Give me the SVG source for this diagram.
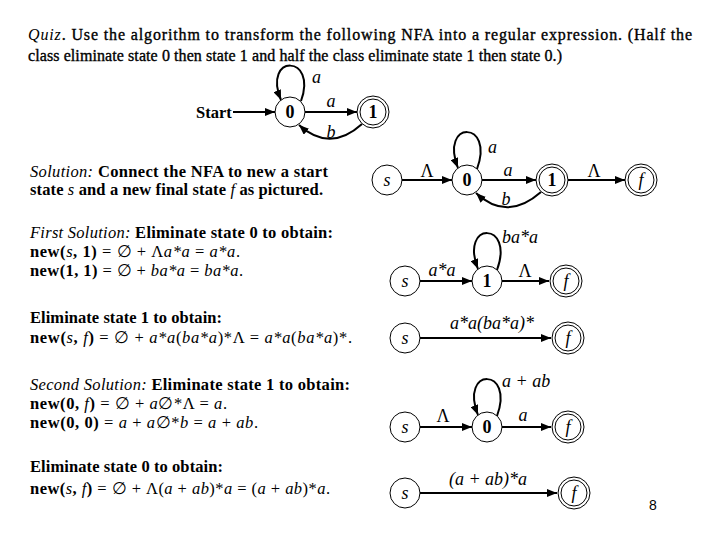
<svg xmlns="http://www.w3.org/2000/svg" width="720" height="540" viewBox="0 0 720 540">
<defs>
<marker id="ah" viewBox="0 0 10 8" refX="10" refY="4" markerWidth="10" markerHeight="8" markerUnits="userSpaceOnUse" orient="auto"><path d="M0,0 L10,4 L0,8 z" fill="#000"/></marker>
<style>
.t{font-family:"Liberation Serif","Times New Roman",serif;font-size:16.5px;font-weight:bold;fill:#000}
.h{font-family:"Liberation Serif","Times New Roman",serif;font-size:16px;fill:#000;stroke:#000;stroke-width:0.35}
.i{font-style:italic;font-weight:normal;stroke:none}
.n{font-weight:normal}
.st{fill:#fff;stroke:#000;stroke-width:1}
.lb{font-family:"Liberation Serif","Times New Roman",serif;font-size:18px;font-style:italic;fill:#000}
.lu{font-family:"Liberation Serif","Times New Roman",serif;font-size:18px;fill:#000;text-anchor:middle}
.nb{font-family:"Liberation Serif","Times New Roman",serif;font-size:18px;font-weight:bold;fill:#000;text-anchor:middle}
.ni{font-family:"Liberation Serif","Times New Roman",serif;font-size:18px;font-style:italic;fill:#000;text-anchor:middle}
.e{fill:none;stroke:#000;stroke-width:2;marker-end:url(#ah)}
.c{text-anchor:middle}
</style>
</defs>
<rect width="720" height="540" fill="#fff"/>

<g id="text">
<text class="h" x="28" y="40" textLength="664" lengthAdjust="spacing"><tspan class="i">Quiz</tspan>. Use the algorithm to transform the following NFA into a regular expression. (Half the</text>
<text class="h" x="28" y="61" textLength="534" lengthAdjust="spacing">class eliminate state 0 then state 1 and half the class eliminate state 1 then state 0.)</text>

<text class="t" x="30" y="177" textLength="298" lengthAdjust="spacing"><tspan class="i">Solution:</tspan> Connect the NFA to new a start</text>
<text class="t" x="30" y="195" textLength="293" lengthAdjust="spacing">state <tspan class="i">s</tspan> and a new final state <tspan class="i">f</tspan> as pictured.</text>

<text class="t" x="30" y="238" textLength="303" lengthAdjust="spacing"><tspan class="i">First Solution:</tspan> Eliminate state 0 to obtain:</text>
<text class="t" x="30" y="257" textLength="210" lengthAdjust="spacing">new(<tspan class="i">s</tspan>, 1) <tspan class="n">= ∅ + Λ</tspan><tspan class="i">a*a</tspan><tspan class="n"> = </tspan><tspan class="i">a*a</tspan><tspan class="n">.</tspan></text>
<text class="t" x="30" y="276" textLength="213" lengthAdjust="spacing">new(1, 1) <tspan class="n">= ∅ + </tspan><tspan class="i">ba*a</tspan><tspan class="n"> = </tspan><tspan class="i">ba*a</tspan><tspan class="n">.</tspan></text>

<text class="t" x="30" y="323" textLength="192" lengthAdjust="spacing">Eliminate state 1 to obtain:</text>
<text class="t" x="30" y="343" textLength="322" lengthAdjust="spacing">new(<tspan class="i">s</tspan>, <tspan class="i">f</tspan>) <tspan class="n">= ∅ + </tspan><tspan class="i">a*a</tspan><tspan class="n">(</tspan><tspan class="i">ba*a</tspan><tspan class="n">)*Λ = </tspan><tspan class="i">a*a</tspan><tspan class="n">(</tspan><tspan class="i">ba*a</tspan><tspan class="n">)*.</tspan></text>

<text class="t" x="30" y="390" textLength="320" lengthAdjust="spacing"><tspan class="i">Second Solution:</tspan> Eliminate state 1 to obtain:</text>
<text class="t" x="30" y="409" textLength="197" lengthAdjust="spacing">new(0, <tspan class="i">f</tspan>) <tspan class="n">= ∅ + </tspan><tspan class="i">a</tspan><tspan class="n">∅*Λ = </tspan><tspan class="i">a</tspan><tspan class="n">.</tspan></text>
<text class="t" x="30" y="428" textLength="228" lengthAdjust="spacing">new(0, 0) <tspan class="n">= </tspan><tspan class="i">a</tspan><tspan class="n"> + </tspan><tspan class="i">a</tspan><tspan class="n">∅*</tspan><tspan class="i">b</tspan><tspan class="n"> = </tspan><tspan class="i">a</tspan><tspan class="n"> + </tspan><tspan class="i">ab</tspan><tspan class="n">.</tspan></text>

<text class="t" x="30" y="472" textLength="193" lengthAdjust="spacing">Eliminate state 0 to obtain:</text>
<text class="t" x="30" y="494" textLength="300" lengthAdjust="spacing">new(<tspan class="i">s</tspan>, <tspan class="i">f</tspan>) <tspan class="n">= ∅ + Λ(</tspan><tspan class="i">a</tspan><tspan class="n"> + </tspan><tspan class="i">ab</tspan><tspan class="n">)*</tspan><tspan class="i">a</tspan><tspan class="n"> = (</tspan><tspan class="i">a</tspan><tspan class="n"> + </tspan><tspan class="i">ab</tspan><tspan class="n">)*</tspan><tspan class="i">a</tspan><tspan class="n">.</tspan></text>

<text x="653" y="510" font-family="Liberation Sans, Arial, sans-serif" font-size="14" text-anchor="middle">8</text>
</g>

<g id="connectors">
<path class="e" d="M233,112 L275,112"/>
<path class="e" d="M301,101 C318,54 262,54 281,100"/>
<path class="e" d="M305,112 L357,112"/>
<path class="e" d="M362,124 Q330,153 299,125"/>

<path class="e" d="M402,180 L452,180"/>
<path class="e" d="M477,169 C495,120 439,120 458,168"/>
<path class="e" d="M482,180 L536,180"/>
<path class="e" d="M541,192 Q507,222 476,193"/>
<path class="e" d="M568,180 L625,180"/>

<path class="e" d="M420,281 L472,281"/>
<path class="e" d="M497,270 C515,221 459,221 478,269"/>
<path class="e" d="M502,281 L549,281"/>

<path class="e" d="M420,338 L551,338"/>

<path class="e" d="M420,427 L472,427"/>
<path class="e" d="M497,416 C515,367 459,367 478,415"/>
<path class="e" d="M502,427 L551,427"/>

<path class="e" d="M420,493 L557,493"/>
</g>

<g id="labels">
<text class="lb" x="312" y="83">a</text>
<text class="lb c" x="331" y="107">a</text>
<text class="lb c" x="331" y="138">b</text>

<text class="lu" x="427" y="177">Λ</text>
<text class="lb" x="488" y="153">a</text>
<text class="lb c" x="508" y="176">a</text>
<text class="lb c" x="506" y="205">b</text>
<text class="lu" x="594" y="177">Λ</text>

<text class="lb" x="502" y="243">ba*a</text>
<text class="lb c" x="442" y="276">a*a</text>
<text class="lu" x="525" y="277">Λ</text>

<text class="lb c" x="492" y="329">a*a(ba*a)*</text>

<text class="lb" x="502" y="387">a + ab</text>
<text class="lu" x="443" y="422">Λ</text>
<text class="lb c" x="523" y="421">a</text>

<text class="lb c" x="488" y="485">(a + ab)*a</text>
</g>

<g id="start-label"><text class="t" x="196" y="118">Start</text></g>

<g id="nA0"><circle class="st" cx="290" cy="112" r="15"/><text class="nb" x="290" y="118">0</text></g>
<g id="nA1"><circle class="st" cx="373" cy="112" r="16"/><circle class="st" cx="373" cy="112" r="13"/><text class="nb" x="373" y="118">1</text></g>

<g id="nBs"><circle class="st" cx="387" cy="180" r="15"/><text class="ni" x="387" y="186">s</text></g>
<g id="nB0"><circle class="st" cx="467" cy="180" r="15"/><text class="nb" x="467" y="186">0</text></g>
<g id="nB1"><circle class="st" cx="552" cy="180" r="16"/><circle class="st" cx="552" cy="180" r="13"/><text class="nb" x="552" y="186">1</text></g>
<g id="nBf"><circle class="st" cx="641" cy="180" r="16"/><circle class="st" cx="641" cy="180" r="13"/><text class="ni" x="641" y="186">f</text></g>

<g id="nCs"><circle class="st" cx="405" cy="281" r="15"/><text class="ni" x="405" y="287">s</text></g>
<g id="nC1"><circle class="st" cx="487" cy="281" r="15"/><text class="nb" x="487" y="287">1</text></g>
<g id="nCf"><circle class="st" cx="566" cy="281" r="16"/><circle class="st" cx="566" cy="281" r="13"/><text class="ni" x="566" y="287">f</text></g>

<g id="nDs"><circle class="st" cx="405" cy="338" r="15"/><text class="ni" x="405" y="344">s</text></g>
<g id="nDf"><circle class="st" cx="568" cy="338" r="16"/><circle class="st" cx="568" cy="338" r="13"/><text class="ni" x="568" y="344">f</text></g>

<g id="nEs"><circle class="st" cx="405" cy="427" r="15"/><text class="ni" x="405" y="433">s</text></g>
<g id="nE0"><circle class="st" cx="487" cy="427" r="15"/><text class="nb" x="487" y="433">0</text></g>
<g id="nEf"><circle class="st" cx="568" cy="427" r="16"/><circle class="st" cx="568" cy="427" r="13"/><text class="ni" x="568" y="433">f</text></g>

<g id="nFs"><circle class="st" cx="405" cy="493" r="15"/><text class="ni" x="405" y="499">s</text></g>
<g id="nFf"><circle class="st" cx="574" cy="493" r="16"/><circle class="st" cx="574" cy="493" r="13"/><text class="ni" x="574" y="499">f</text></g>
</svg>
